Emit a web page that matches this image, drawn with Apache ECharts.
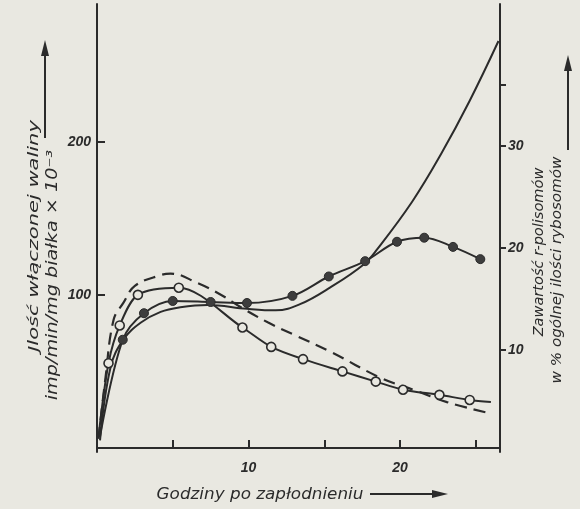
<!DOCTYPE html>
<html>
<head>
<meta charset="utf-8">
<script src="https://cdn.jsdelivr.net/npm/echarts@6/dist/echarts.min.js"></script>
<style>
    html, body { margin: 0; padding: 0; background: #e9e8e1; }
    #chart { width: 580px; height: 509px; }
</style>
</head>
<body>
<div id="chart"></div>
<script>
    // wartości (godziny po zapłodnieniu)
    var solidHours = [0.2, 0.9, 1.75, 2.9, 4.2, 5.5, 7.3, 9.9, 11.8, 13.4, 15.4, 17.6, 18.5, 20.8, 22.7, 24.6, 26.5];
    var solidValine = [5, 53, 71, 82, 89, 92, 93.5, 91, 90, 94, 105, 120, 130, 161, 192, 227, 266];

    var dashedHours = [0.1, 0.55, 1.1, 1.75, 2.5, 4.2, 4.85, 6.6, 8.2, 9.5, 11.3, 13.0, 15.4, 18.7, 20.9, 23.1, 25.8];
    var dashedValine = [6, 45, 84, 95, 106, 113, 114, 108, 100, 92, 82, 74, 63, 46, 38, 30, 23];

    var filledHours = [0.2, 1.7, 3.1, 5.0, 7.5, 9.9, 12.9, 15.3, 17.7, 19.8, 21.6, 23.5, 25.3];
    var filledPolysomes = [1.5, 11.0, 13.6, 14.8, 14.7, 14.6, 15.3, 17.2, 18.7, 20.6, 21.0, 20.1, 18.9];

    var openHours = [0.1, 0.76, 1.5, 2.7, 5.4, 9.6, 11.5, 13.6, 16.2, 18.4, 20.2, 22.6, 24.6, 26.0];
    var openPolysomes = [1.5, 8.7, 12.4, 15.4, 16.1, 12.2, 10.3, 9.1, 7.9, 6.9, 6.1, 5.6, 5.1, 4.9];

    var hourTicks = [5, 10, 15, 20, 25];
    var hourLabels = [10, 20];
    var valineTicks = [100, 200];
    var polysomeTicks = [10, 20, 30, 36];
    var polysomeLabels = [10, 20, 30];

    var ink = '#2b2b2b';
    var paper = '#e9e8e1';

    // pierwszy / ostatni punkt to tylko początek linii, bez kółka
    function points(hours, values, lastPlain) {
        var out = [];
        for (var i = 0; i < hours.length; i++) {
            var plain = i === 0 || (lastPlain && i === hours.length - 1);
            out.push(plain ? { value: [hours[i], values[i]], symbol: 'none' } : [hours[i], values[i]]);
        }
        return out;
    }

    // tekst obrócony pionowo, rozciągnięty wzdłuż linii jak w oryginale
    function vText(text, x, y, size, stretch) {
        return {
            type: 'text', x: x, y: y, rotation: Math.PI / 2, scaleX: stretch, scaleY: 1,
            style: { text: text, fill: ink, font: 'italic ' + size + 'px "DejaVu Sans"', align: 'center', verticalAlign: 'middle' }
        };
    }

    var chart = echarts.init(document.getElementById('chart'));
    var labelStyle = { color: ink, fontFamily: 'Liberation Sans', fontStyle: 'italic', fontWeight: 'bold', fontSize: 14 };

    var option = {
        backgroundColor: paper,
        animation: false,
        grid: { left: 97, right: 80, top: 4, bottom: 57, outerBoundsMode: 'none' },
        xAxis: {
            type: 'value', min: 0, max: 26.6,
            splitLine: { show: false },
            axisLine: { lineStyle: { color: ink, width: 2 } },
            axisTick: { inside: true, length: 8, customValues: hourTicks, lineStyle: { color: ink, width: 2 } },
            axisLabel: Object.assign({ customValues: hourLabels, margin: 9 }, labelStyle)
        },
        yAxis: [
            {
                type: 'value', min: -2.6, max: 290.2,
                splitLine: { show: false },
                axisLine: { show: true, lineStyle: { color: ink, width: 2 } },
                axisTick: { inside: true, length: 8, customValues: valineTicks, lineStyle: { color: ink, width: 2 } },
                axisLabel: Object.assign({ customValues: valineTicks, margin: 6 }, labelStyle)
            },
            {
                type: 'value', min: 0, max: 43.9, position: 'right',
                splitLine: { show: false },
                axisLine: { show: true, lineStyle: { color: ink, width: 2 } },
                axisTick: { length: 6, customValues: polysomeTicks, lineStyle: { color: ink, width: 2 } },
                axisLabel: Object.assign({ customValues: polysomeLabels, margin: 8 }, labelStyle)
            }
        ],
        series: [
            {
                type: 'line', yAxisIndex: 0, smooth: 0.4, symbol: 'none',
                lineStyle: { color: ink, width: 2 },
                data: points(solidHours, solidValine, false)
            },
            {
                type: 'line', yAxisIndex: 0, smooth: 0.4, symbol: 'none',
                lineStyle: { color: ink, width: 2.2, type: [12, 7] },
                data: points(dashedHours, dashedValine, false)
            },
            {
                type: 'line', yAxisIndex: 1, smooth: 0.35, symbol: 'circle', symbolSize: 9,
                lineStyle: { color: ink, width: 2 },
                itemStyle: { color: '#3d3d3d', borderColor: ink, borderWidth: 1 },
                data: points(filledHours, filledPolysomes, false)
            },
            {
                type: 'line', yAxisIndex: 1, smooth: 0.3, symbol: 'circle', symbolSize: 9,
                lineStyle: { color: ink, width: 2 },
                itemStyle: { color: paper, borderColor: ink, borderWidth: 1.6 },
                data: points(openHours, openPolysomes, true),
                z: 3
            }
        ],
        graphic: [
            vText('Jlość włączonej waliny', 34, 236, 14, 1.5),
            vText('imp/min/mg białka × 10⁻³', 53, 275, 15, 1.28),
            { type: 'line', shape: { x1: 45, y1: 138, x2: 45, y2: 52 }, style: { stroke: ink, lineWidth: 2 } },
            { type: 'polygon', shape: { points: [[45, 40], [41, 56], [49, 56]] }, style: { fill: ink } },
            vText('Zawartość r-polisomów', 539, 252, 14, 1.04),
            vText('w % ogólnej ilości rybosomów', 557, 270, 14, 1.08),
            { type: 'line', shape: { x1: 568, y1: 150, x2: 568, y2: 68 }, style: { stroke: ink, lineWidth: 2 } },
            { type: 'polygon', shape: { points: [[568, 55], [564, 71], [572, 71]] }, style: { fill: ink } },
            {
                type: 'text', x: 260, y: 495, scaleX: 1.05,
                style: { text: 'Godziny po zapłodnieniu', fill: ink, font: 'italic 16px "DejaVu Sans"', align: 'center', verticalAlign: 'middle' }
            },
            { type: 'line', shape: { x1: 370, y1: 494, x2: 434, y2: 494 }, style: { stroke: ink, lineWidth: 2 } },
            { type: 'polygon', shape: { points: [[448, 494], [432, 490], [432, 498]] }, style: { fill: ink } }
        ]
    };
    chart.setOption(option);
</script>
</body>
</html>
